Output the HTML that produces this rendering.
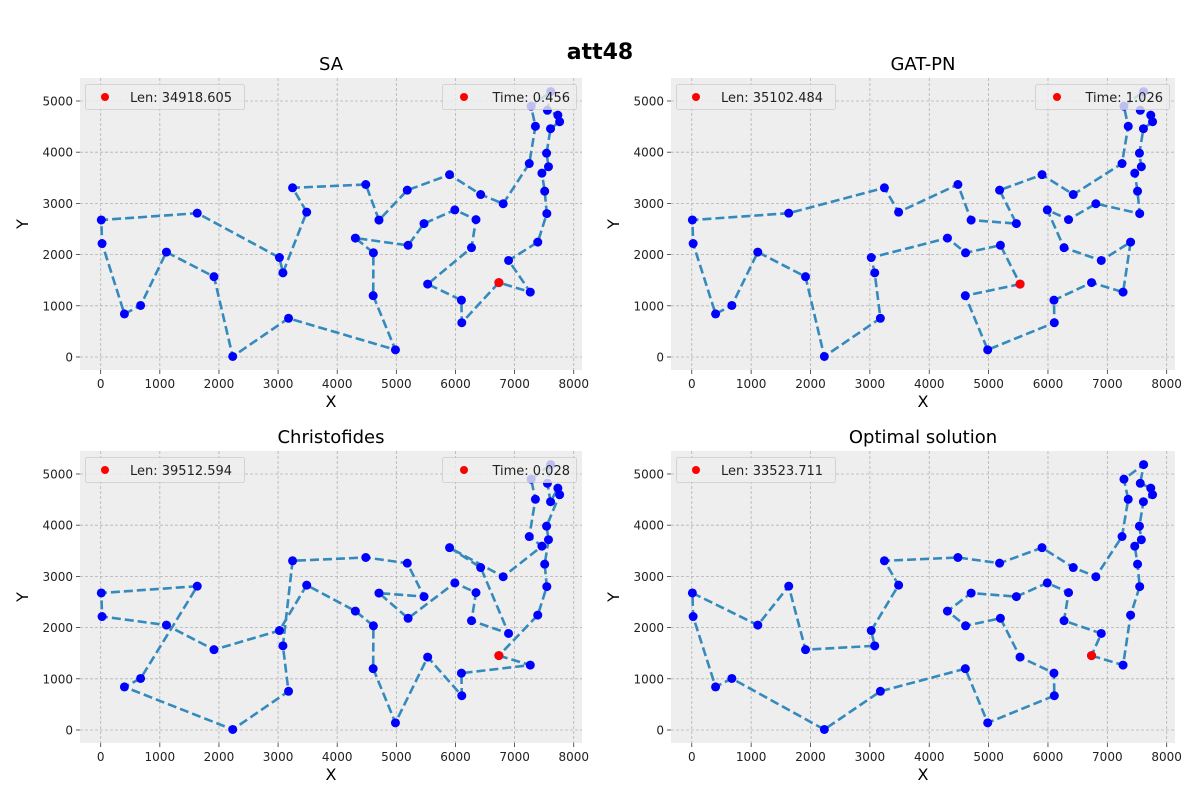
<!DOCTYPE html>
<html><head><meta charset="utf-8"><style>
body{margin:0;background:#fff;}
svg{display:block;font-family:"DejaVu Sans","Liberation Sans",sans-serif;}
</style></head><body>
<svg id="fig" width="1200" height="800" viewBox="0 0 1200 800">
<text x="600" y="59" text-anchor="middle" font-size="22" font-weight="bold" fill="#000">att48</text>
</svg>
<script>
const xs=[6734,2233,5530,401,3082,7608,7573,7265,6898,1112,5468,5989,4706,4612,6347,6107,7611,7462,7732,5900,4483,6101,5199,1633,4307,675,7555,7541,3177,7352,7545,3245,6426,4608,23,7248,7762,7392,3484,6271,4985,1916,7280,7509,10,6807,5185,3023];
const ys=[1453,10,1424,841,1644,4458,3716,1268,1885,2049,2606,2873,2674,2035,2683,669,5184,3590,4723,3561,3369,1110,2182,2809,2322,1006,4819,3981,756,4506,2801,3305,3173,1198,2216,3779,4595,2244,2829,2135,140,1569,4899,3239,2676,2993,3258,1942];
const tourSA=[1,16,22,3,40,15,12,11,23,25,14,34,41,29,2,42,10,26,4,35,45,24,48,5,39,32,21,13,47,20,33,46,36,30,43,17,27,19,37,6,28,7,18,44,31,38,9,8];
const tourGAT=[3,34,41,16,22,1,8,38,9,40,12,15,46,31,44,18,7,28,6,37,19,27,17,43,30,36,33,20,47,11,13,21,39,32,24,45,35,4,26,10,42,2,29,5,48,25,14,23];
const tourCH=[1,8,22,16,3,41,34,14,25,39,48,42,10,35,45,24,26,4,2,29,5,32,21,47,11,13,23,12,15,40,9,33,20,46,18,36,30,43,17,27,6,19,37,28,7,44,31,38];
const tourOPT=[1,8,38,31,44,18,7,28,6,37,19,27,17,43,30,36,46,33,20,47,21,32,39,48,5,42,24,10,45,35,4,26,2,29,34,41,16,22,3,23,14,25,13,11,12,15,40,9];
const titles=["SA","GAT-PN","Christofides","Optimal solution"];
const lens=["34918.605","35102.484","39512.594","33523.711"];
const times=["0.456","1.026","0.028",null];
const xticks=[0,1000,2000,3000,4000,5000,6000,7000,8000];
const yticks=[0,1000,2000,3000,4000,5000];
const tours=[tourSA,tourGAT,tourCH,tourOPT];
const boxes=[[80,78,502,292],[671,78,504,292],[80,451,502,292],[671,451,504,292]];
const NS="http://www.w3.org/2000/svg";
const svg=document.getElementById('fig');
function mk(tag,attrs,parent){const e=document.createElementNS(NS,tag);for(const k in attrs)e.setAttribute(k,attrs[k]);(parent||svg).appendChild(e);return e;}
const XMIN=-350,XMAX=8140,YMIN=-254,YMAX=5449;
boxes.forEach((b,i)=>{
  const [L,T,W,H]=b;
  const sx=v=>L+(v-XMIN)/(XMAX-XMIN)*W;
  const sy=v=>T+H-(v-YMIN)/(YMAX-YMIN)*H;
  const g=mk('g',{});
  
  
  const bg=mk('rect',{x:L,y:T,width:W,height:H,fill:'#eeeeee'},g);
  
  
  xticks.forEach(t=>{
    const x=sx(t);
    const gl=mk('line',{x1:x,x2:x,y1:T,y2:T+H,stroke:'#b2b2b2','stroke-width':0.8,'stroke-dasharray':'3,2'},g);
    
    
    mk('line',{x1:x,x2:x,y1:T+H,y2:T+H+4,stroke:'#333','stroke-width':0.8},g);
    const tx=mk('text',{x:x,y:T+H+18,'text-anchor':'middle','font-size':12,fill:'#222'},g);
    tx.textContent=t;
    
    
  });
  yticks.forEach(t=>{
    const y=sy(t);
    const gl=mk('line',{x1:L,x2:L+W,y1:y,y2:y,stroke:'#b2b2b2','stroke-width':0.8,'stroke-dasharray':'3,2'},g);
    
    
    mk('line',{x1:L-4,x2:L,y1:y,y2:y,stroke:'#333','stroke-width':0.8},g);
    const tx=mk('text',{x:L-7,y:y+4.5,'text-anchor':'end','font-size':12,fill:'#222'},g);
    tx.textContent=t;
    
    
  });
  const tt=mk('text',{x:L+W/2,y:T-8,'text-anchor':'middle','font-size':18,fill:'#000'},g);
  tt.textContent=titles[i];
  
  
  const xl=mk('text',{x:L+W/2,y:T+H+37,'text-anchor':'middle','font-size':16,fill:'#000'},g);
  xl.textContent='X';
  
  
  const yl=mk('text',{x:0,y:0,'text-anchor':'middle','font-size':16,fill:'#000',transform:`translate(${L-52},${T+H/2}) rotate(-90)`},g);
  yl.textContent='Y';
  
  
  const tour=tours[i];
  const pts=tour.concat([tour[0]]).map(c=>sx(xs[c-1]).toFixed(1)+','+sy(ys[c-1]).toFixed(1)).join(' ');
  const pl=mk('polyline',{points:pts,fill:'none',stroke:'#348ABD','stroke-width':2.6,'stroke-dasharray':'9,4'},g);
  
  
  xs.forEach((v,k)=>{
    const c=mk('circle',{cx:sx(v),cy:sy(ys[k]),r:4.5,fill:'#0000ff'},g);
    
    
  });
  const s=tour[0];
  const sc=mk('circle',{cx:sx(xs[s-1]),cy:sy(ys[s-1]),r:4.5,fill:'#ff0000'},g);
  
  
  const lg=mk('g',{},g);
  
  
  mk('rect',{x:L+5.5,y:T+6.5,width:159,height:25,rx:2,fill:'#eeeeee','fill-opacity':0.8,stroke:'#cccccc','stroke-width':0.8},lg);
  mk('circle',{cx:L+25,cy:T+19,r:4,fill:'#ff0000'},lg);
  const lt=mk('text',{x:L+50,y:T+24,'font-size':13,fill:'#222'},lg);
  lt.textContent='Len: '+lens[i];
  if(times[i]!==null){
    const tg=mk('g',{},g);
    
    
    mk('rect',{x:L+W-139.5,y:T+6.5,width:134,height:25,rx:2,fill:'#eeeeee','fill-opacity':0.8,stroke:'#cccccc','stroke-width':0.8},tg);
    mk('circle',{cx:L+W-118,cy:T+19,r:4,fill:'#ff0000'},tg);
    const t2=mk('text',{x:L+W-12,y:T+24,'text-anchor':'end','font-size':13,fill:'#222'},tg);
    t2.textContent='Time: '+times[i];
  }
});
</script>
</body></html>
